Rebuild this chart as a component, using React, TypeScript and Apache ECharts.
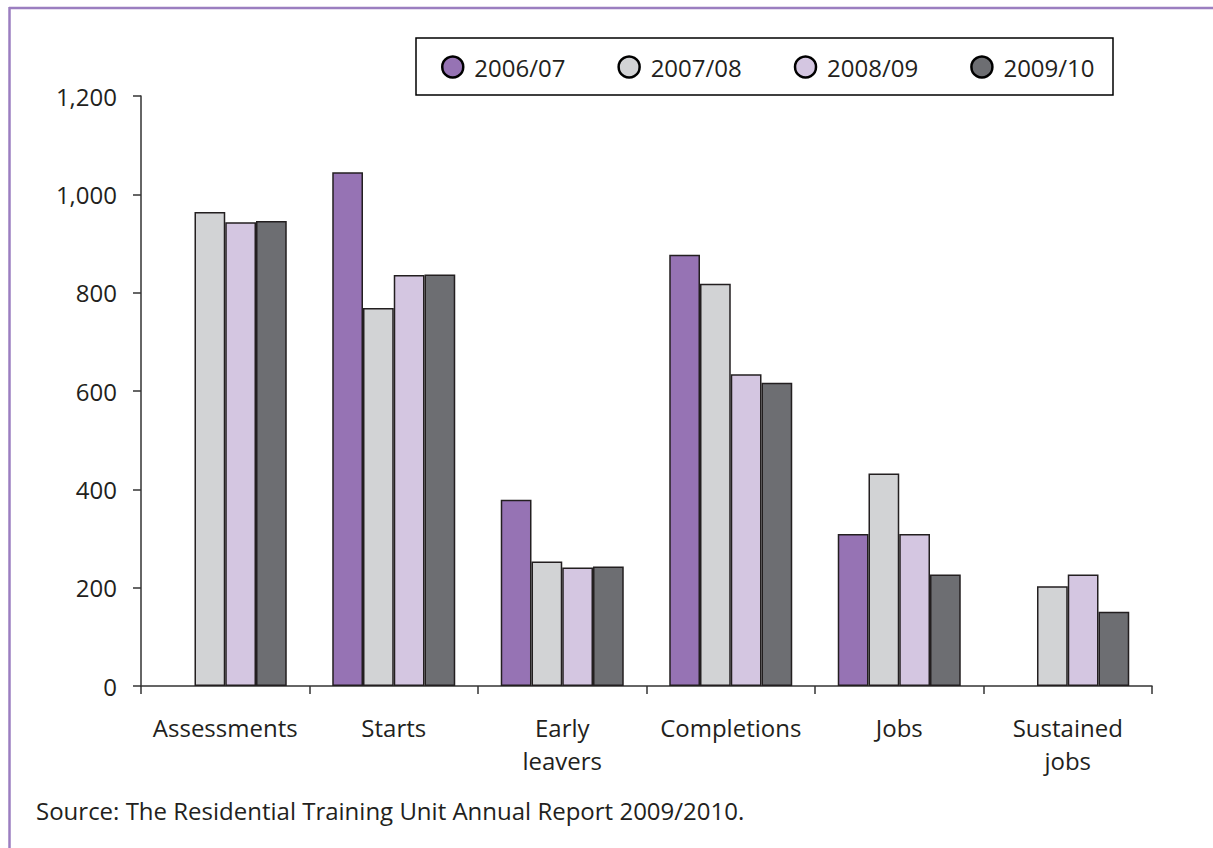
import React, { useEffect, useRef } from "react";
import * as echarts from "echarts";

// Residential Training Unit outcomes by year
const categories = ["Assessments", "Starts", "Early\nleavers", "Completions", "Jobs", "Sustained\njobs"];
const yearNames = ["2006/07", "2007/08", "2008/09", "2009/10"];
const values0607 = [null, 1045, 379, 877, 309, null];
const values0708 = [964, 769, 253, 818, 432, 203];
const values0809 = [943, 836, 241, 634, 309, 227];
const values0910 = [946, 837, 243, 617, 227, 151];
const yearColors = ["#9673b4", "#d2d3d5", "#d4c6e1", "#6d6e72"];
const yTicks = [0, 200, 400, 600, 800, 1000, 1200];
const sourceNote = "Source: The Residential Training Unit Annual Report 2009/2010.";

const FONT = "'Open Sans', 'Noto Sans', sans-serif";
const INK = "#231f20";
const FRAME = "#9b7ec0";

export default function App() {
  const ref = useRef<HTMLDivElement>(null);

  useEffect(() => {
    document.body.style.margin = "0";
    if (!ref.current) return;
    const chart = echarts.init(ref.current, undefined, { renderer: "svg" });
    const seriesValues = [values0607, values0708, values0809, values0910];

    chart.setOption({
      animation: false,
      backgroundColor: "#ffffff",
      textStyle: { fontFamily: FONT },
      grid: { left: 141, right: 61, top: 96, bottom: 162, containLabel: false },
      legend: {
        data: yearNames,
        left: 436,
        top: 50,
        icon: "circle",
        itemWidth: 21,
        itemHeight: 21,
        itemGap: 52,
        itemStyle: { borderColor: "#000", borderWidth: 2.5 },
        textStyle: { fontFamily: FONT, fontSize: 24, color: INK, padding: [0, 0, 0, 6] },
        selectedMode: false,
      },
      xAxis: {
        type: "category",
        data: categories,
        axisLine: { lineStyle: { color: "#333", width: 1.5 } },
        axisTick: { show: true, length: 8, lineStyle: { color: "#333", width: 1.5 } },
        axisLabel: {
          fontFamily: FONT,
          fontSize: 24,
          color: INK,
          margin: 25,
          lineHeight: 33,
          interval: 0,
        },
      },
      yAxis: {
        type: "value",
        min: 0,
        max: 1200,
        interval: 200,
        splitLine: { show: false },
        axisLine: { show: true, lineStyle: { color: "#333", width: 1.5 } },
        axisTick: { show: true, length: 8, lineStyle: { color: "#333", width: 1.5 } },
        axisLabel: {
          fontFamily: FONT,
          fontSize: 24,
          color: INK,
          margin: 24,
          formatter: (v: number) => (yTicks.includes(v) ? v.toLocaleString("en-US") : ""),
        },
      },
      series: yearNames.map((name, i) => ({
        name,
        type: "bar",
        data: seriesValues[i],
        barGap: "0%",
        barCategoryGap: "27%",
        itemStyle: { color: yearColors[i], borderColor: INK, borderWidth: 1.5 },
      })),
      graphic: [
        {
          type: "rect",
          shape: { x: 416, y: 38, width: 697, height: 57 },
          style: { fill: "none", stroke: "#000", lineWidth: 1.5 },
          z: -1,
        },
        {
          type: "line",
          shape: { x1: 9, y1: 8, x2: 1213, y2: 8 },
          style: { stroke: FRAME, lineWidth: 2.5 },
        },
        {
          type: "line",
          shape: { x1: 9.5, y1: 7, x2: 9.5, y2: 848 },
          style: { stroke: FRAME, lineWidth: 2.5 },
        },
        {
          type: "text",
          x: 36,
          y: 810,
          style: {
            text: sourceNote,
            font: `24px ${FONT}`,
            fill: INK,
            verticalAlign: "middle",
          },
        },
      ],
    });

    return () => chart.dispose();
  }, []);

  return <div ref={ref} style={{ width: 1213, height: 848 }} />;
}
